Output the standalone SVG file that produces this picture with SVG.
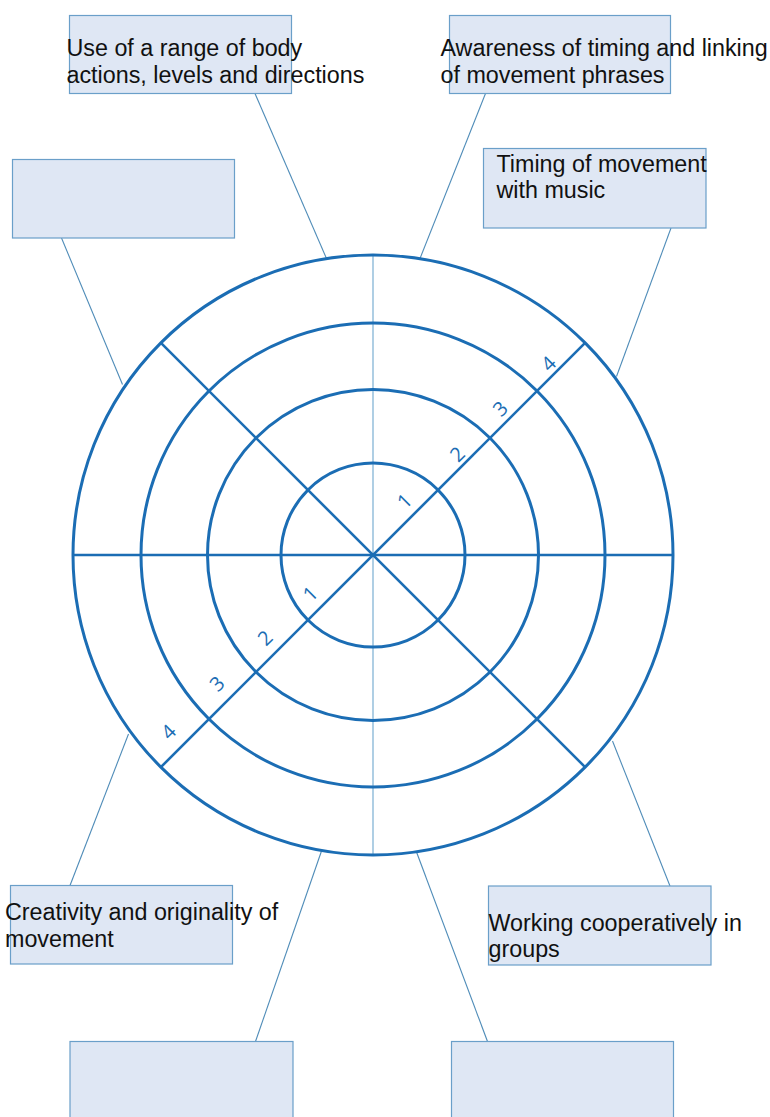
<svg xmlns="http://www.w3.org/2000/svg" width="770" height="1117" viewBox="0 0 770 1117">
  <style>
    .box { fill: #dfe7f4; stroke: #6a9fc9; stroke-width: 1.2; }
    .lbl { font-family: "Liberation Sans", Arial, sans-serif; font-size: 23.3px; fill: #111; }
    .ring { fill: none; stroke: #1b6db4; stroke-width: 3; }
    .spoke { stroke: #1b6db4; stroke-width: 2.6; }
    .axis { stroke: #8dbad9; stroke-width: 1.4; }
    .link { stroke: #4f8cb8; stroke-width: 1.1; fill: none; }
    .num { font-family: "Open Sans", "DejaVu Sans", sans-serif; font-size: 20px; fill: #1b6db4; text-anchor: middle; dominant-baseline: central; }
  </style>

  <!-- connectors from the boxes to the outer ring -->
  <g id="connectors">
    <line class="link" x1="255" y1="93.5" x2="326.5" y2="258.5"/>
    <line class="link" x1="485.5" y1="93.5" x2="420" y2="258.5"/>
    <line class="link" x1="61.5" y1="238" x2="122.5" y2="384.5"/>
    <line class="link" x1="671" y1="228" x2="616.5" y2="376.5"/>
    <line class="link" x1="70" y1="885.5" x2="128.5" y2="734"/>
    <line class="link" x1="670" y1="886" x2="612.5" y2="741"/>
    <line class="link" x1="255.5" y1="1041.5" x2="321.5" y2="851"/>
    <line class="link" x1="487.5" y1="1041.5" x2="416.5" y2="852"/>
  </g>

  <!-- target wheel -->
  <g id="wheel">
    <line class="axis" x1="373" y1="255" x2="373" y2="855"/>
    <line class="spoke" x1="73" y1="555" x2="673" y2="555"/>
    <line class="spoke" x1="160.9" y1="342.9" x2="585.1" y2="767.1"/>
    <line class="spoke" x1="585.1" y1="342.9" x2="160.9" y2="767.1"/>
    <circle class="ring" cx="373" cy="555" r="92"/>
    <circle class="ring" cx="373" cy="555" r="165.5"/>
    <circle class="ring" cx="373" cy="555" r="232"/>
    <circle class="ring" cx="373" cy="555" r="300"/>
  </g>

  <!-- scale numbers along the rising diagonal -->
  <g id="scale">
    <text class="num" transform="translate(404.3 500.7) rotate(-45)">1</text>
    <text class="num" transform="translate(457 454) rotate(-45)">2</text>
    <text class="num" transform="translate(500 408.3) rotate(-45)">3</text>
    <text class="num" transform="translate(548.3 363.3) rotate(-45)">4</text>
    <text class="num" transform="translate(310 593.3) rotate(-45)">1</text>
    <text class="num" transform="translate(264.8 637.6) rotate(-45)">2</text>
    <text class="num" transform="translate(216.7 683.3) rotate(-45)">3</text>
    <text class="num" transform="translate(168.3 731.7) rotate(-45)">4</text>
  </g>

  <g id="box-body-actions">
    <rect class="box" x="69.5" y="15.5" width="222" height="78"/>
    <text class="lbl" x="66.5" y="56">Use of a range of body</text>
    <text class="lbl" x="66.5" y="82.7">actions, levels and directions</text>
  </g>

  <g id="box-timing-linking">
    <rect class="box" x="449.5" y="15.5" width="221" height="78"/>
    <text class="lbl" x="440.5" y="56">Awareness of timing and linking</text>
    <text class="lbl" x="440.5" y="82.7">of movement phrases</text>
  </g>

  <g id="box-blank-left">
    <rect class="box" x="12.5" y="159.5" width="222" height="78.5"/>
  </g>

  <g id="box-timing-music">
    <rect class="box" x="483.5" y="148.5" width="222.5" height="79.5"/>
    <text class="lbl" x="496.5" y="171.7">Timing of movement</text>
    <text class="lbl" x="496.5" y="198.3">with music</text>
  </g>

  <g id="box-creativity">
    <rect class="box" x="10.5" y="885.5" width="222" height="78.5"/>
    <text class="lbl" x="5" y="920">Creativity and originality of</text>
    <text class="lbl" x="5" y="946.7">movement</text>
  </g>

  <g id="box-cooperation">
    <rect class="box" x="488.5" y="886" width="222.5" height="79"/>
    <text class="lbl" x="488.5" y="930.7">Working cooperatively in</text>
    <text class="lbl" x="488.5" y="956.7">groups</text>
  </g>

  <g id="box-blank-bottom-left">
    <rect class="box" x="70" y="1041.5" width="223" height="90"/>
  </g>

  <g id="box-blank-bottom-right">
    <rect class="box" x="451.5" y="1041.5" width="222" height="90"/>
  </g>
</svg>
